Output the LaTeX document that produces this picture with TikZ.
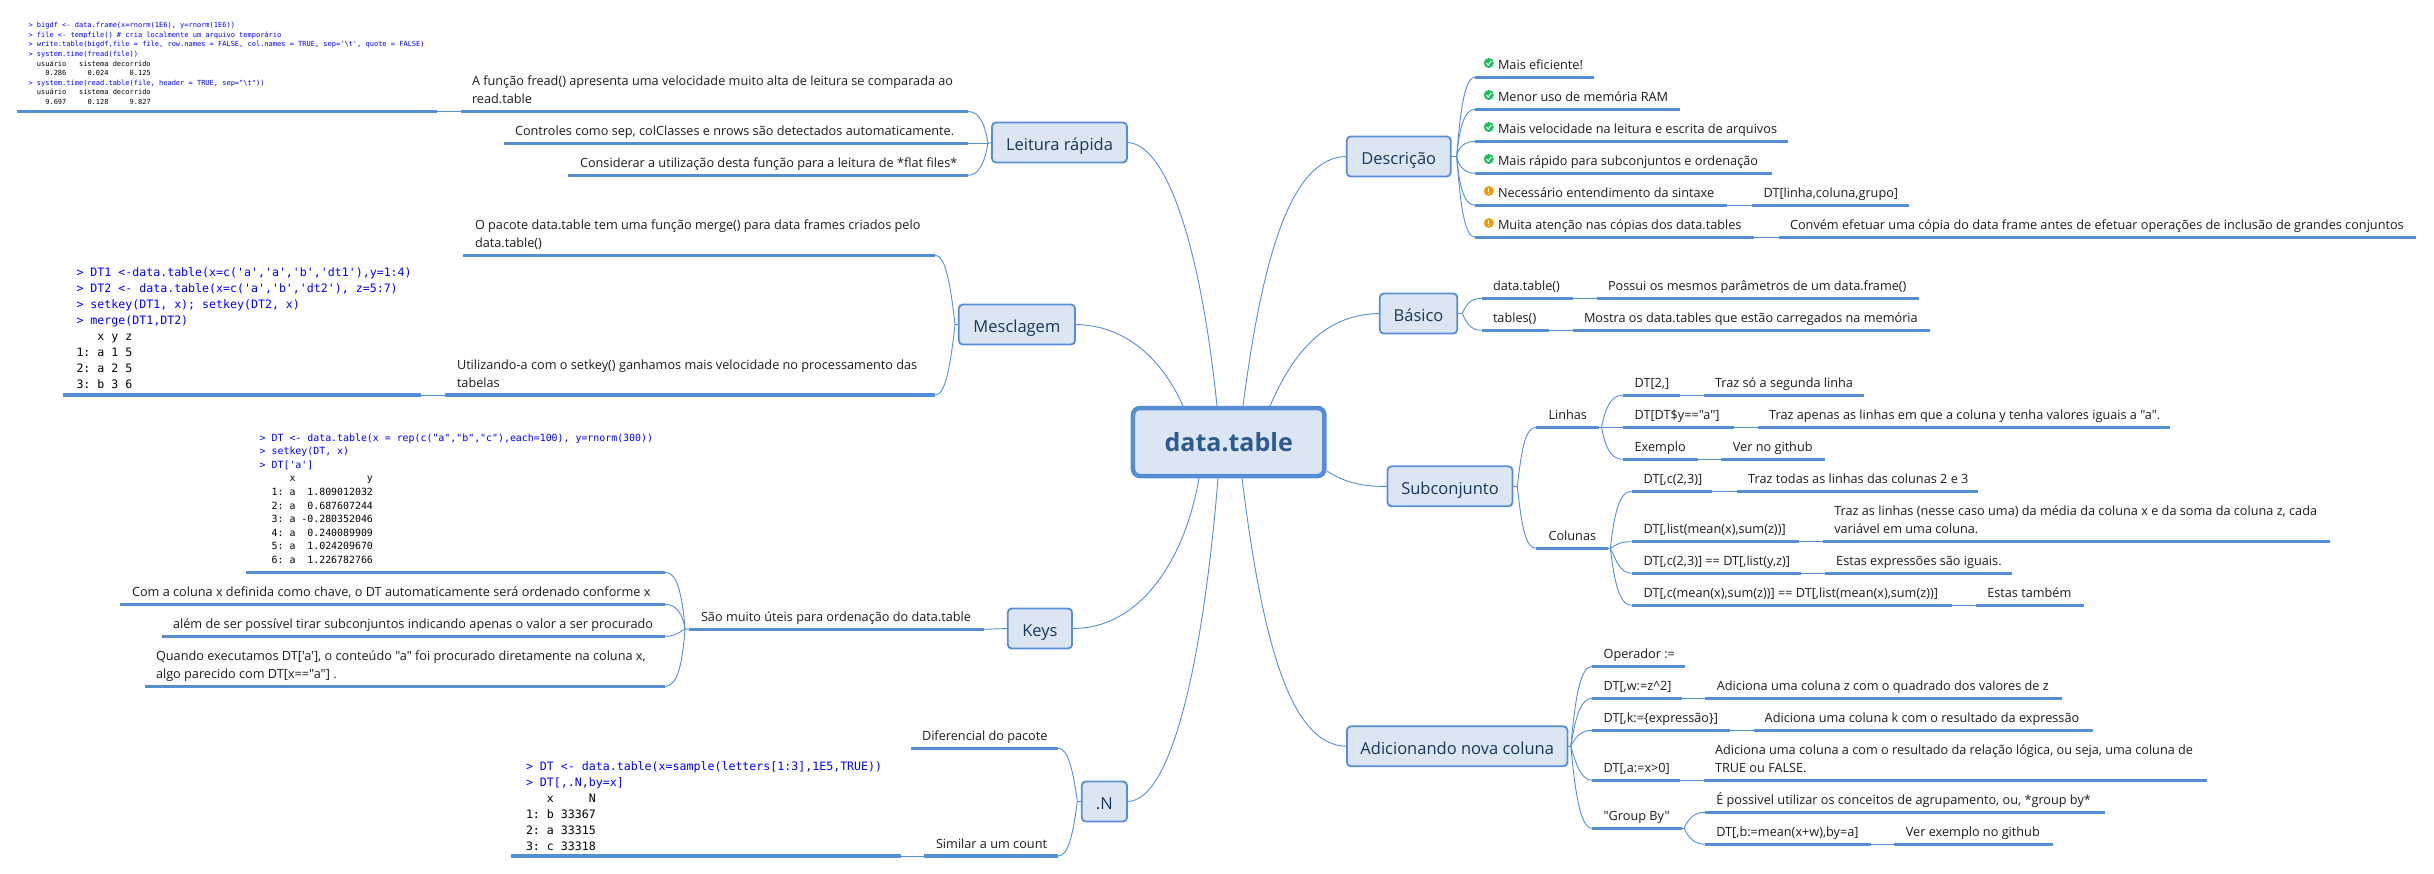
\documentclass[tikz,border=0pt]{standalone}
\usepackage{fontspec}
\newfontfamily\osans{Open Sans}
\newfontfamily\mono{DejaVu Sans Mono}
\AtBeginDocument{\frenchspacing}
\definecolor{rulec}{HTML}{558ED5}
\definecolor{fillc}{HTML}{DCE6F2}
\definecolor{headc}{HTML}{17375E}
\definecolor{rootc}{HTML}{2F5A90}
\definecolor{leafc}{HTML}{1C1C1C}
\definecolor{codeb}{HTML}{0000FF}
\definecolor{okc}{HTML}{1BC15D}
\definecolor{warnc}{HTML}{F59B00}
\tikzset{
  rulel/.style={draw=rulec,line width=3.5pt},
  link/.style={draw=rulec,line width=0.9pt},
  leaf/.style={anchor=base west,inner sep=0pt,outer sep=0pt,text=leafc,align=left,
    font={\fontsize{12.7}{18}\selectfont\osans}},
  mainbox/.style={draw=rulec,fill=fillc,line width=1.8pt,rounded corners=4pt,inner sep=0pt,outer sep=0pt,
    minimum height=40pt,text height=19pt,text depth=3pt,text=headc,font={\fontsize{16.5}{20}\selectfont\osans}},
  rootbox/.style={draw=rulec,fill=fillc,line width=4.5pt,rounded corners=7pt,inner sep=0pt,outer sep=0pt,
    minimum width=191.5pt,minimum height=68pt,text=rootc,font={\fontsize{25}{30}\selectfont\osans\bfseries}},
  codel/.style={anchor=base west,inner sep=0pt,outer sep=0pt,align=left,text=black},
}
% name, x1, x2, y : underline with named ends
\newcommand{\rul}[4]{\coordinate (#1a) at (#2,#4);\coordinate (#1b) at (#3,#4);\draw[rulel] (#1a) -- (#1b);}
% name, x, baseline of the last line, text
\newcommand{\leafn}[4]{\node[leaf] (#1) at (#2,#3) {#4};}
\newcommand{\blu}[1]{\textcolor{codeb}{#1}}
% icons
\newcommand{\okicon}[2]{\fill[okc] (#1,#2) circle (5pt);\draw[white,line width=1.1pt] (#1-2.4,#2+0.1) -- (#1-0.6,#2+2) -- (#1+2.6,#2-2);}
\newcommand{\warnicon}[2]{\fill[warnc] (#1,#2) circle (5pt);\draw[white,line width=1.3pt] (#1,#2-3) -- (#1,#2+0.8);\fill[white] (#1,#2+2.6) circle (0.8pt);}
\begin{document}
\begin{tikzpicture}[x=1pt,y=-1pt]
\useasboundingbox (0,0) rectangle (2434,873);
% ---- main nodes
\node[rootbox] (root) at (1228.7,442) {data.table};
\node[mainbox,minimum width=135pt] (leitura) at (1059.5,142.5) {Leitura rápida};
\node[mainbox,minimum width=116.3pt] (mescl) at (1016.9,324.5) {Mesclagem};
\node[mainbox,minimum width=64.3pt] (keys) at (1039.9,628.5) {Keys};
\node[mainbox,minimum width=45.3pt] (dotn) at (1104.4,801.5) {.N};
\node[mainbox,minimum width=104pt] (descr) at (1398.7,156.5) {Descrição};
\node[mainbox,minimum width=77.6pt] (basico) at (1418.5,313.5) {Básico};
\node[mainbox,minimum width=125pt] (subc) at (1450,486.3) {Subconjunto};
\node[mainbox,minimum width=220.5pt] (adic) at (1457.2,746.3) {Adicionando nova coluna};
% ---- root connectors
\coordinate (r1) at (1183,406);\coordinate (r2) at (1217,406);\coordinate (r3) at (1243,406);\coordinate (r4) at (1270,406);
\coordinate (r5) at (1327,471);\coordinate (r6) at (1242,478);\coordinate (r7) at (1218,478);\coordinate (r8) at (1199,478);
\draw[link] (r2) .. controls (1200,240) and (1165,143) .. (leitura.east);
\draw[link] (r1) .. controls (1165,365) and (1130,325) .. (mescl.east);
\draw[link] (r3) .. controls (1262,260) and (1290,157) .. (descr.west);
\draw[link] (r4) .. controls (1290,360) and (1320,314) .. (basico.west);
\draw[link] (r5) .. controls (1345,483) and (1365,487) .. (subc.west);
\draw[link] (r6) .. controls (1262,640) and (1290,746) .. (adic.west);
\draw[link] (r8) .. controls (1185,560) and (1140,629) .. (keys.east);
\draw[link] (r7) .. controls (1205,640) and (1175,802) .. (dotn.east);
% ---- Leitura rapida
\coordinate (jl) at (988,143.3);
\draw[link] (leitura.west) -- (jl);
\rul{la}{17}{437}{111.5}\rul{lb}{461}{968}{111.5}\draw[link] (lab) -- (lba);
\rul{lc}{503.6}{968}{143.3}\rul{ld}{568}{968}{175.3}
\draw[link] (jl) .. controls (985,125) and (980,111.5) .. (lbb);
\draw[link] (jl) -- (lcb);
\draw[link] (jl) .. controls (985,160) and (980,175.3) .. (ldb);
\leafn{t1}{472}{103.5}{A função fread() apresenta uma velocidade muito alta de leitura se comparada ao\\read.table}
\leafn{t2}{515}{135.5}{Controles como sep, colClasses e nrows são detectados automaticamente.}
\leafn{t3}{580}{167.5}{Considerar a utilização desta função para a leitura de *flat files*}
\node[codel,font={\fontsize{7}{9.62}\selectfont\mono}] (code1) at (28.5,104.5) {\blu{> bigdf <- data.frame(x=rnorm(1E6), y=rnorm(1E6))}\\
\blu{> file <- tempfile() \# cria localmente um arquivo temporário}\\
\blu{> write.table(bigdf,file = file, row.names = FALSE, col.names = TRUE, sep='\textbackslash t', quote = FALSE)}\\
\blu{> system.time(fread(file))}\\
~~usuário~~~sistema decorrido\\
~~~~0.286~~~~~0.024~~~~~0.125\\
\blu{> system.time(read.table(file, header = TRUE, sep="\textbackslash t"))}\\
~~usuário~~~sistema decorrido\\
~~~~9.697~~~~~0.128~~~~~9.827};
% ---- Mesclagem
\coordinate (jm) at (955,324.5);
\draw[link] (mescl.west) -- (jm);
\rul{ma}{463}{935}{255.3}
\rul{mb}{63}{421}{395}\rul{mc}{445.4}{935}{395}\draw[link] (mbb) -- (mca);
\draw[link] (jm) .. controls (950,280) and (945,255.3) .. (mab);
\draw[link] (jm) .. controls (950,370) and (945,395) .. (mcb);
\leafn{t4}{475}{247.5}{O pacote data.table tem uma função merge() para data frames criados pelo\\data.table()}
\leafn{t5}{457}{387}{Utilizando-a com o setkey() ganhamos mais velocidade no processamento das\\tabelas}
\node[codel,font={\fontsize{11.6}{16}\selectfont\mono}] (code2) at (76.5,388) {\blu{> DT1 <-data.table(x=c('a','a','b','dt1'),y=1:4)}\\
\blu{> DT2 <- data.table(x=c('a','b','dt2'), z=5:7)}\\
\blu{> setkey(DT1, x); setkey(DT2, x)}\\
\blu{> merge(DT1,DT2)}\\
~~~x y z\\
1: a 1 5\\
2: a 2 5\\
3: b 3 6};
% ---- Keys
\coordinate (jk) at (685,629);
\rul{ka}{689.3}{984.3}{629.3}\draw[link] (jk) -- (kaa);\draw[link] (kab) -- (keys.west);
\leafn{t6}{701}{621.5}{São muito úteis para ordenação do data.table}
\rul{kb}{246.4}{665}{572.3}\rul{kc}{120.4}{665}{604.3}\rul{kd}{161.7}{665}{636.3}\rul{ke}{144.8}{665}{686.3}
\draw[link] (jk) .. controls (682,590) and (676,572.3) .. (kbb);
\draw[link] (jk) .. controls (683,615) and (677,604.3) .. (kcb);
\draw[link] (jk) .. controls (680,632) and (675,636.3) .. (kdb);
\draw[link] (jk) .. controls (682,670) and (676,686.3) .. (keb);
\leafn{t7}{132}{596.5}{Com a coluna x definida como chave, o DT automaticamente será ordenado conforme x}
\leafn{t8}{173}{628.5}{além de ser possível tirar subconjuntos indicando apenas o valor a ser procurado}
\leafn{t9}{156}{678.5}{Quando executamos DT['a'], o conteúdo "a" foi procurado diretamente na coluna x,\\algo parecido com DT[x=="a"] .}
\node[codel,font={\fontsize{9.9}{13.62}\selectfont\mono}] (code3) at (259.7,563.6) {\blu{> DT <- data.table(x = rep(c("a","b","c"),each=100), y=rnorm(300))}\\
\blu{> setkey(DT, x)}\\
\blu{> DT['a']}\\
~~~~~x~~~~~~~~~~~~y\\
~~1: a~~1.809012032\\
~~2: a~~0.687607244\\
~~3: a -0.280352046\\
~~4: a~~0.240089909\\
~~5: a~~1.024209670\\
~~6: a~~1.226782766};
% ---- .N
\coordinate (jn) at (1077.3,801.5);
\draw[link] (dotn.west) -- (jn);
\rul{na}{910.7}{1058.3}{748.3}
\rul{nb}{511}{900.5}{856}\rul{nc}{924.3}{1058.3}{856}\draw[link] (nbb) -- (nca);
\draw[link] (jn) .. controls (1073,770) and (1068,748.3) .. (nab);
\draw[link] (jn) .. controls (1073,835) and (1068,856) .. (ncb);
\leafn{t10}{922}{740.5}{Diferencial do pacote}
\leafn{t11}{936}{848}{Similar a um count}
\node[codel,font={\fontsize{11.6}{16}\selectfont\mono}] (code4) at (526,850) {\blu{> DT <- data.table(x=sample(letters[1:3],1E5,TRUE))}\\
\blu{> DT[,.N,by=x]}\\
~~~x~~~~~N\\
1: b 33367\\
2: a 33315\\
3: c 33318};
% ---- Descricao
\coordinate (jd) at (1456.7,156.5);
\draw[link] (descr.east) -- (jd);
\rul{da}{1475}{1594.4}{77.3}\rul{db}{1475}{1680.4}{109.3}\rul{dc}{1475}{1788}{141.3}\rul{dd}{1475}{1771.5}{173.3}
\rul{de}{1475}{1727.4}{205.3}\rul{df}{1752}{1909}{205.3}\draw[link] (deb) -- (dfa);
\rul{dg}{1475}{1754}{237.3}\rul{dh}{1778.8}{2416}{237.3}\draw[link] (dgb) -- (dha);
\draw[link] (jd) .. controls (1460,115) and (1464,77.3) .. (daa);
\draw[link] (jd) .. controls (1459,130) and (1464,109.3) .. (dba);
\draw[link] (jd) .. controls (1458,148) and (1464,141.3) .. (dca);
\draw[link] (jd) .. controls (1458,165) and (1464,173.3) .. (dda);
\draw[link] (jd) .. controls (1459,185) and (1464,205.3) .. (dea);
\draw[link] (jd) .. controls (1460,200) and (1464,237.3) .. (dga);
\okicon{1488.8}{63}\okicon{1488.8}{95}\okicon{1488.8}{127}\okicon{1488.8}{159}\warnicon{1488.8}{191}\warnicon{1488.8}{223}
\leafn{t12}{1498}{69.3}{Mais eficiente!}
\leafn{t13}{1498}{101.3}{Menor uso de memória RAM}
\leafn{t14}{1498}{133.3}{Mais velocidade na leitura e escrita de arquivos}
\leafn{t15}{1498}{165.3}{Mais rápido para subconjuntos e ordenação}
\leafn{t16}{1498}{197.3}{Necessário entendimento da sintaxe}
\leafn{t17}{1763.6}{197.3}{DT[linha,coluna,grupo]}
\leafn{t18}{1498}{229.3}{Muita atenção nas cópias dos data.tables}
\leafn{t19}{1790}{229.3}{Convém efetuar uma cópia do data frame antes de efetuar operações de inclusão de grandes conjuntos}
% ---- Basico
\coordinate (jb) at (1462.3,313.5);
\draw[link] (basico.east) -- (jb);
\rul{ba}{1481.5}{1572.6}{298.3}\rul{bb}{1596.5}{1919}{298.3}\draw[link] (bab) -- (bba);
\rul{bc}{1481.5}{1548.8}{330.3}\rul{bd}{1572.6}{1930}{330.3}\draw[link] (bcb) -- (bda);
\draw[link] (jb) .. controls (1466,305) and (1470,298.3) .. (baa);
\draw[link] (jb) .. controls (1466,322) and (1470,330.3) .. (bca);
\leafn{t20}{1493}{290.3}{data.table()}
\leafn{t21}{1608}{290.3}{Possui os mesmos parâmetros de um data.frame()}
\leafn{t22}{1493}{322.3}{tables()}
\leafn{t23}{1584}{322.3}{Mostra os data.tables que estão carregados na memória}
% ---- Subconjunto
\coordinate (js) at (1517.3,486.3);
\draw[link] (subc.east) -- (js);
\rul{sa}{1536.4}{1599}{427.3}\rul{sb}{1536.4}{1607.9}{548.3}
\draw[link] (js) .. controls (1522,445) and (1526,427.3) .. (saa);
\draw[link] (js) .. controls (1522,530) and (1526,548.3) .. (sba);
\leafn{t24}{1548.5}{419.3}{Linhas}
\leafn{t25}{1548.5}{540.3}{Colunas}
\coordinate (jla) at (1601.5,427.3);
\coordinate (jco) at (1610.4,548.3);
\draw[link] (sab) -- (jla);\draw[link] (sbb) -- (jco);
\rul{sc}{1622.5}{1680}{395.3}\rul{sd}{1703.5}{1864}{395.3}\draw[link] (scb) -- (sda);
\rul{se}{1622.5}{1733.5}{427.3}\rul{sf}{1757.7}{2170.4}{427.3}\draw[link] (seb) -- (sfa);
\rul{sg}{1622.5}{1697.8}{459.3}\rul{sh}{1721.4}{1825.3}{459.3}\draw[link] (sgb) -- (sha);
\draw[link] (jla) .. controls (1605,410) and (1610,395.3) .. (sca);
\draw[link] (jla) -- (sea);
\draw[link] (jla) .. controls (1605,445) and (1610,459.3) .. (sga);
\leafn{t26}{1634.6}{387.3}{DT[2,]}
\leafn{t27}{1715}{387.3}{Traz só a segunda linha}
\leafn{t28}{1634.6}{419.3}{DT[DT\$y=="a"]}
\leafn{t29}{1769.2}{419.3}{Traz apenas as linhas em que a coluna y tenha valores iguais a "a".}
\leafn{t30}{1634.6}{451.3}{Exemplo}
\leafn{t31}{1732.9}{451.3}{Ver no github}
\rul{si}{1631.5}{1712.4}{491.3}\rul{sj}{1736.7}{1978.4}{491.3}\draw[link] (sib) -- (sja);
\rul{sk}{1631.5}{1798.5}{541.7}\rul{sl}{1822.8}{2329.8}{541.7}\draw[link] (skb) -- (sla);
\rul{sm}{1631.5}{1800.5}{573.3}\rul{sn}{1824.7}{2012}{573.3}\draw[link] (smb) -- (sna);
\rul{so}{1631.5}{1951.6}{605.3}\rul{sp}{1975.8}{2083.6}{605.3}\draw[link] (sob) -- (spa);
\draw[link] (jco) .. controls (1614,515) and (1619,491.3) .. (sia);
\draw[link] (jco) .. controls (1616,544) and (1622,541.7) .. (ska);
\draw[link] (jco) .. controls (1615,558) and (1620,573.3) .. (sma);
\draw[link] (jco) .. controls (1614,580) and (1619,605.3) .. (soa);
\leafn{t32}{1643.6}{483.3}{DT[,c(2,3)]}
\leafn{t33}{1748.2}{483.3}{Traz todas as linhas das colunas 2 e 3}
\leafn{t34}{1643.6}{533.7}{DT[,list(mean(x),sum(z))]}
\leafn{t35}{1834.3}{533.7}{Traz as linhas (nesse caso uma) da média da coluna x e da soma da coluna z, cada\\variável em uma coluna.}
\leafn{t36}{1643.6}{565.3}{DT[,c(2,3)] == DT[,list(y,z)]}
\leafn{t37}{1836.2}{565.3}{Estas expressões são iguais.}
\leafn{t38}{1643.6}{597.3}{DT[,c(mean(x),sum(z))] == DT[,list(mean(x),sum(z))]}
\leafn{t39}{1987.3}{597.3}{Estas também}
% ---- Adicionando
\coordinate (ja) at (1570.8,746.3);
\draw[link] (adic.east) -- (ja);
\rul{aa}{1592}{1685.4}{666.3}
\rul{ab}{1592}{1681.7}{698.3}\rul{ac}{1705.3}{2061.6}{698.3}\draw[link] (abb) -- (aca);
\rul{ad}{1592}{1729.6}{730.3}\rul{ae}{1753.8}{2092.5}{730.3}\draw[link] (adb) -- (aea);
\rul{af}{1592}{1679.9}{780.3}\rul{ag}{1703.5}{2207}{780.3}\draw[link] (afb) -- (aga);
\rul{ah}{1592}{1681.7}{828.3}
\draw[link] (ja) .. controls (1575,700) and (1580,666.3) .. (aaa);
\draw[link] (ja) .. controls (1575,720) and (1580,698.3) .. (aba);
\draw[link] (ja) .. controls (1575,738) and (1580,730.3) .. (ada);
\draw[link] (ja) .. controls (1575,760) and (1580,780.3) .. (afa);
\draw[link] (ja) .. controls (1575,790) and (1580,828.3) .. (aha);
\coordinate (jg) at (1684,828.3);
\draw[link] (ahb) -- (jg);
\rul{ai}{1705.3}{2104.6}{812.3}
\rul{aj}{1705.3}{1870.7}{844.3}\rul{ak}{1894.4}{2053}{844.3}\draw[link] (ajb) -- (aka);
\draw[link] (jg) .. controls (1688,820) and (1693,812.3) .. (aia);
\draw[link] (jg) .. controls (1688,836) and (1693,844.3) .. (aja);
\leafn{t40}{1603.6}{658.3}{Operador :=}
\leafn{t41}{1603.6}{690.3}{DT[,w:=z\textasciicircum 2]}
\leafn{t42}{1716.9}{690.3}{Adiciona uma coluna z com o quadrado dos valores de z}
\leafn{t43}{1603.6}{722.3}{DT[,k:=\{expressão\}]}
\leafn{t44}{1764.7}{722.3}{Adiciona uma coluna k com o resultado da expressão}
\leafn{t45}{1603.6}{772.3}{DT[,a:=x>0]}
\leafn{t46}{1715}{772.5}{Adiciona uma coluna a com o resultado da relação lógica, ou seja, uma coluna de\\TRUE ou FALSE.}
\leafn{t47}{1603.6}{820.3}{"Group By"}
\leafn{t48}{1716.3}{804.3}{É possivel utilizar os conceitos de agrupamento, ou, *group by*}
\leafn{t49}{1716.3}{836.3}{DT[,b:=mean(x+w),by=a]}
\leafn{t50}{1905.9}{836.3}{Ver exemplo no github}
\end{tikzpicture}
\end{document}
